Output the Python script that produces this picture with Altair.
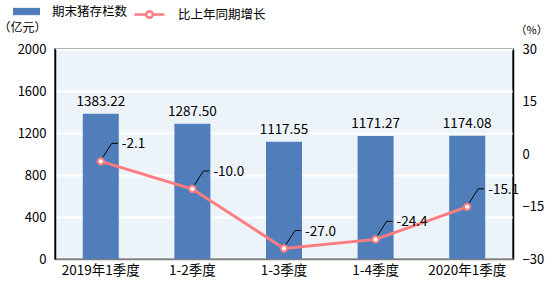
import altair as alt
import pandas as pd

# Quarterly pig inventory and year-on-year growth
quarters = ["2019年1季度", "1-2季度", "1-3季度", "1-4季度", "2020年1季度"]
stock = [1383.22, 1287.50, 1117.55, 1171.27, 1174.08]
growth = [-2.1, -10.0, -27.0, -24.4, -15.1]

stock_name = "期末猪存栏数"
growth_name = "比上年同期增长"

df = pd.DataFrame({
    "q": quarters,
    "stock": stock,
    "growth": growth,
    "stock_label": [f"{v:.2f}" for v in stock],
    "growth_label": [f"{v:.1f}" for v in growth],
    "s1": stock_name,
    "s2": growth_name,
})

FONT = "Noto Sans CJK SC"
BLUE = "#4F7EBB"
PINK = "#FF7C80"

x_enc = alt.X(
    "q:N",
    sort=quarters,
    title=None,
    scale=alt.Scale(paddingInner=0.6, paddingOuter=0.3),
    axis=alt.Axis(
        labelAngle=0, labelFontSize=13.5, labelColor="#000", labelFont=FONT,
        ticks=False, labelPadding=4, domainColor="#808080", domainWidth=1.5,
    ),
)

y_left = alt.Y(
    "stock:Q",
    scale=alt.Scale(domain=[0, 2000], nice=False),
    axis=alt.Axis(
        values=[0, 400, 800, 1200, 1600, 2000], format="d", title="（亿元）",
        titleAngle=0, titleAlign="left", titleBaseline="middle",
        titleX=-57, titleY=-22, titleFont=FONT, titleFontSize=12,
        titleFontWeight="normal", titleColor="#000",
        labelFontSize=13, labelColor="#000", labelFont=FONT, labelPadding=9,
        ticks=False, domainColor="#000", domainWidth=1.5,
        grid=True, gridColor="#FFFFFF", gridWidth=2,
    ),
)

y_right = alt.Y(
    "growth:Q",
    scale=alt.Scale(domain=[-30, 30], nice=False),
    axis=alt.Axis(
        orient="right", values=[-30, -15, 0, 15, 30], title="（%）",
        titleAngle=0, titleAlign="left", titleBaseline="middle",
        titleX=2, titleY=-19, titleFont=FONT, titleFontSize=11,
        titleFontWeight="normal", titleColor="#000",
        labelFontSize=13, labelColor="#000", labelFont=FONT, labelPadding=9,
        ticks=False, domainColor="#000", domainWidth=1.5, grid=False,
    ),
)

x_plain = alt.X("q:N", sort=quarters, title=None)

base = alt.Chart(df)

bars = base.mark_bar(size=36, color=BLUE).encode(
    x=x_enc,
    y=y_left,
    color=alt.Color(
        "s1:N",
        scale=alt.Scale(domain=[stock_name], range=[BLUE]),
        legend=alt.Legend(
            title=None, orient="none", legendX=-42, legendY=-51,
            symbolType="M-1,-0.27H1V0.27H-1Z", symbolSize=729,
            symbolStrokeWidth=0, labelFont=FONT, labelFontSize=12.5,
            labelColor="#000", labelOffset=12, padding=0,
        ),
    ),
)

bar_text = base.mark_text(
    dy=-12, fontSize=13.5, font=FONT, color="#000"
).encode(x=x_plain, y=y_left, text="stock_label:N")

left = alt.layer(bars, bar_text)

line = base.mark_line(strokeWidth=3).encode(
    x=x_plain,
    y=y_right,
    stroke=alt.Stroke(
        "s2:N",
        scale=alt.Scale(domain=[growth_name], range=[PINK]),
        legend=alt.Legend(
            title=None, orient="none", legendX=78, legendY=-51,
            symbolType="M-1,0H-0.22M0.22,0H1M0.22,0A0.22,0.22,0,1,1,-0.22,0A0.22,0.22,0,1,1,0.22,0",
            symbolSize=900, symbolStrokeWidth=2.5, symbolFillColor="#FFFFFF",
            labelFont=FONT, labelFontSize=12.5, labelColor="#000",
            labelOffset=12, padding=0,
        ),
    ),
)

points = base.mark_point(
    filled=True, fill="#FFFFFF", stroke=PINK, strokeWidth=2, size=40, opacity=1
).encode(x=x_plain, y=y_right)

leader_diag = base.mark_rule(
    color="#000", strokeWidth=1, xOffset=2, yOffset=-4, x2Offset=11, y2Offset=-18
).encode(x=x_plain, x2="q:N", y=y_right, y2="growth:Q")

leader_flat = base.mark_rule(
    color="#000", strokeWidth=1, xOffset=11, x2Offset=17, yOffset=-18
).encode(x=x_plain, x2="q:N", y=y_right)

growth_text = base.mark_text(
    align="left", baseline="middle", dx=21, dy=-17,
    fontSize=13.5, font=FONT, color="#000",
).encode(x=x_plain, y=y_right, text="growth_label:N")

right = alt.layer(line, points, leader_diag, leader_flat, growth_text)

chart = (
    alt.layer(left, right)
    .resolve_scale(y="independent")
    .properties(
        width=458, height=210,
        autosize=alt.AutoSizeParams(type="none"),
        padding={"left": 55, "top": 49, "right": 41, "bottom": 29},
        background="#FFFFFF",
    )
    .configure_view(fill="#ECF4F9", stroke="#333333", strokeWidth=1.5)
)

chart.save("out.html", embed_options={"renderer": "svg", "actions": False})
